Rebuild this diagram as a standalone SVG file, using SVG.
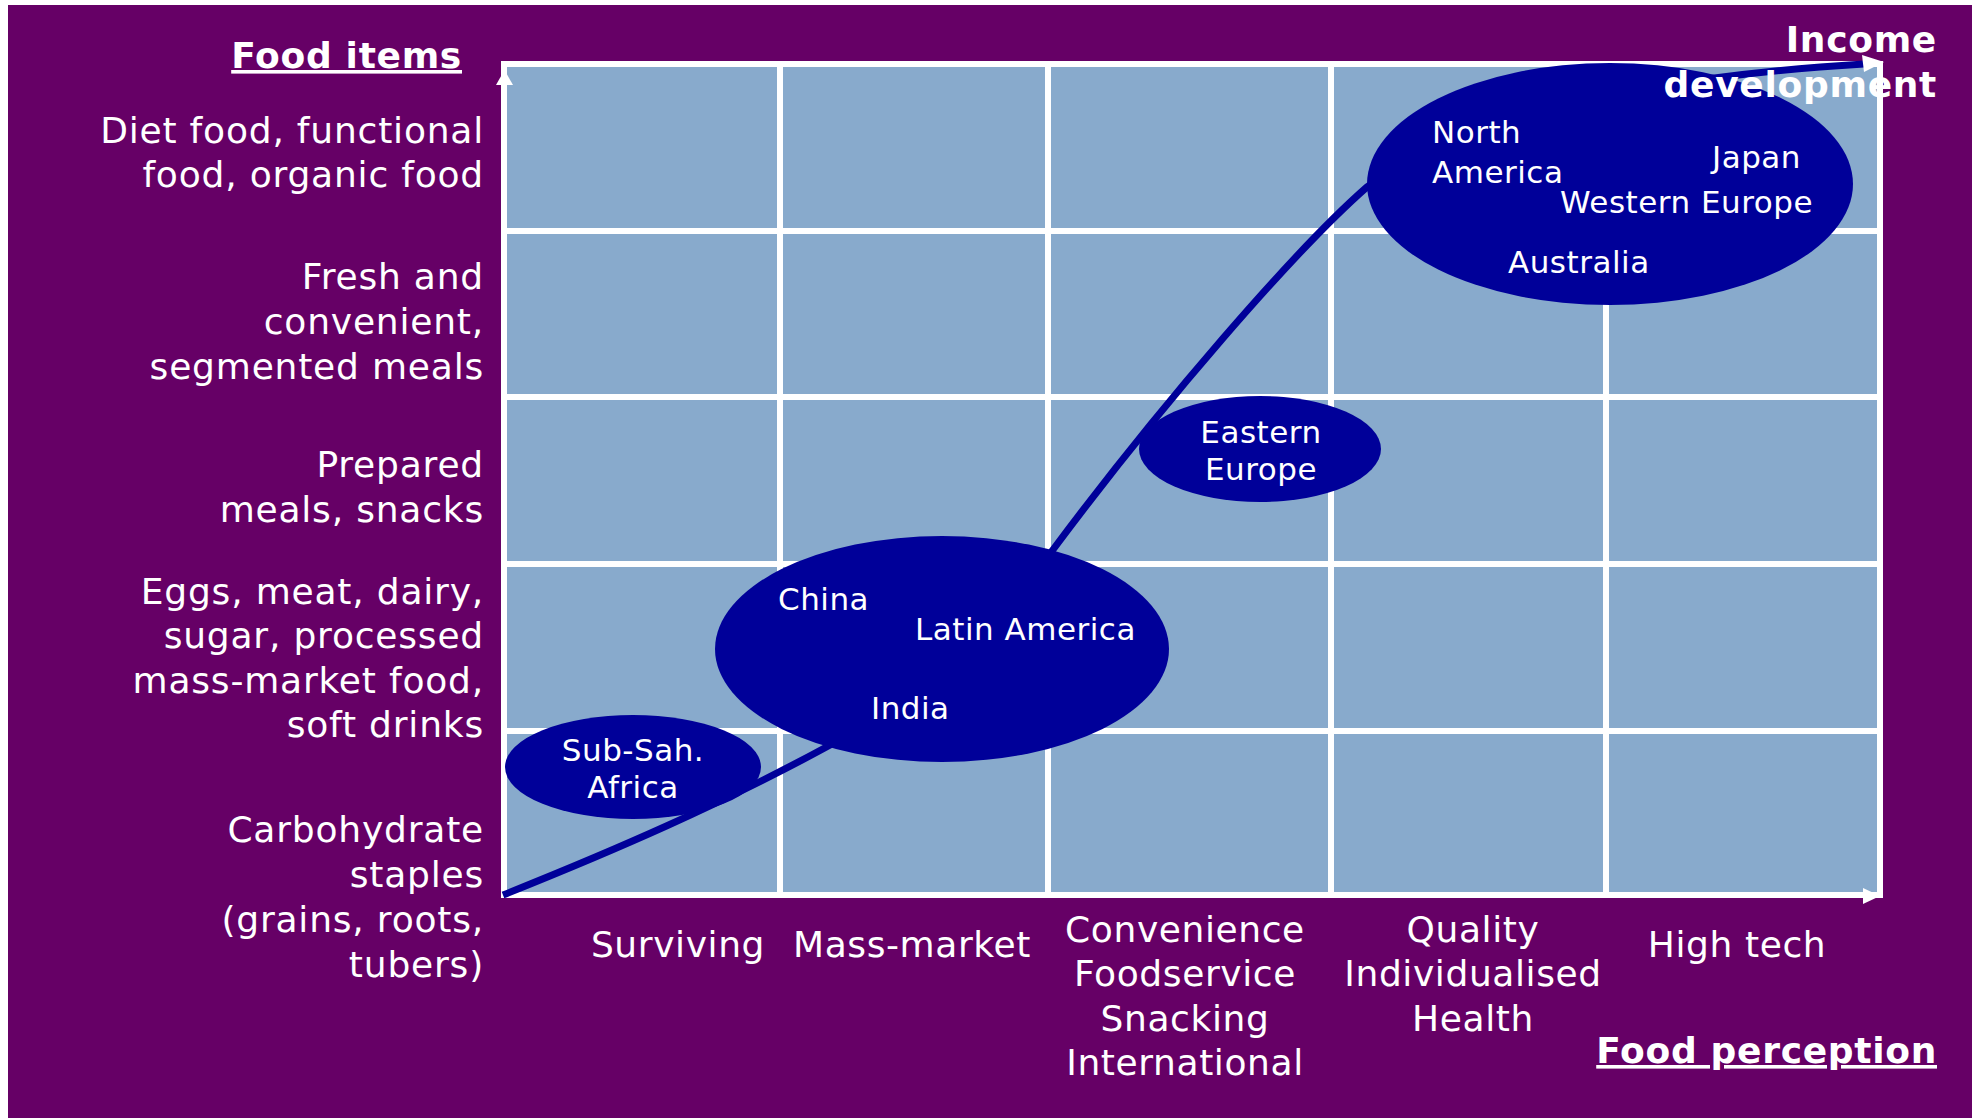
<svg xmlns="http://www.w3.org/2000/svg" width="1976" height="1118" viewBox="0 0 1976 1118">
<style>
text{font-family:"DejaVu Sans","Verdana",sans-serif;fill:#ffffff}
.lab{font-size:36px;text-anchor:end;letter-spacing:0.8px}
.cat{font-size:36px;text-anchor:middle;letter-spacing:0.6px}
.ttl{font-size:36px;font-weight:bold;text-anchor:end;letter-spacing:0.7px}
.ul{text-decoration:underline}
.nd{font-size:31px;letter-spacing:0.5px}
.ndc{font-size:31px;text-anchor:middle;letter-spacing:0.5px}
.grid{stroke:#ffffff;stroke-width:6;fill:none}
.blob{fill:#000099}
</style>
<rect x="0" y="0" width="1976" height="1118" fill="#ffffff"/>
<rect x="8" y="5" width="1964" height="1113" fill="#660066"/>
<g id="chart-grid">
<rect x="504" y="64" width="1376" height="831" fill="#88AACC"/>
<path class="grid" d="M504,64H1880V895H504Z M780,64V895 M1048,64V895 M1331,64V895 M1606,64V895 M504,231H1880 M504,397H1880 M504,564H1880 M504,731H1880"/>
<polygon points="504.5,70 513,85 496,85" fill="#ffffff"/>
<polygon points="1880,896 1863,888 1863,904" fill="#ffffff"/>
</g>
<g id="connectors">
<path d="M503,895 C613,851 722,804 832,744 C902,706 992,623 1052,551 C1160,406 1295,250 1367,187 C1450,130 1600,80 1864,64" fill="none" stroke="#000099" stroke-width="7"/>
<polygon points="1862,55 1884,62 1864,72" fill="#ffffff"/>
</g>
<g id="node-subsah">
<ellipse class="blob" cx="633" cy="767" rx="128" ry="52"/>
<text class="ndc" x="633" y="761">Sub-Sah.</text>
<text class="ndc" x="633" y="798">Africa</text>
</g>
<g id="node-china">
<ellipse class="blob" cx="942" cy="649" rx="227" ry="113"/>
<text class="nd" x="778" y="610">China</text>
<text class="nd" x="915" y="640">Latin America</text>
<text class="nd" x="871" y="719">India</text>
</g>
<g id="node-easterneurope">
<ellipse class="blob" cx="1260" cy="449" rx="121" ry="53"/>
<text class="ndc" x="1261" y="443">Eastern</text>
<text class="ndc" x="1261" y="480">Europe</text>
</g>
<g id="node-developed">
<ellipse class="blob" cx="1610" cy="184" rx="243" ry="121"/>
<text class="nd" x="1432" y="143">North</text>
<text class="nd" x="1432" y="183">America</text>
<text class="nd" x="1712" y="168">Japan</text>
<text class="nd" x="1560" y="213">Western Europe</text>
<text class="nd" x="1508" y="273">Australia</text>
</g>
<g id="y-axis-labels">
<text class="ttl ul" x="462" y="68">Food items</text>
<text class="lab" x="484" y="143">Diet food, functional</text>
<text class="lab" x="484" y="187">food, organic food</text>
<text class="lab" x="484" y="289">Fresh and</text>
<text class="lab" x="484" y="334">convenient,</text>
<text class="lab" x="484" y="379">segmented meals</text>
<text class="lab" x="484" y="477">Prepared</text>
<text class="lab" x="484" y="522">meals, snacks</text>
<text class="lab" x="484" y="604">Eggs, meat, dairy,</text>
<text class="lab" x="484" y="648">sugar, processed</text>
<text class="lab" x="484" y="693">mass-market food,</text>
<text class="lab" x="484" y="737">soft drinks</text>
<text class="lab" x="484" y="842">Carbohydrate</text>
<text class="lab" x="484" y="887">staples</text>
<text class="lab" x="484" y="932">(grains, roots,</text>
<text class="lab" x="484" y="977">tubers)</text>
</g>
<g id="x-axis-labels">
<text class="cat" x="678" y="957">Surviving</text>
<text class="cat" x="912" y="957">Mass-market</text>
<text class="cat" x="1185" y="942">Convenience</text>
<text class="cat" x="1185" y="986">Foodservice</text>
<text class="cat" x="1185" y="1031">Snacking</text>
<text class="cat" x="1185" y="1075">International</text>
<text class="cat" x="1473" y="942">Quality</text>
<text class="cat" x="1473" y="986">Individualised</text>
<text class="cat" x="1473" y="1031">Health</text>
<text class="cat" x="1737" y="957">High tech</text>
<text class="ttl ul" x="1937" y="1063">Food perception</text>
</g>
<g id="income-label">
<text class="ttl" x="1937" y="52">Income</text>
<text class="ttl" x="1937" y="97">development</text>
</g>
</svg>
